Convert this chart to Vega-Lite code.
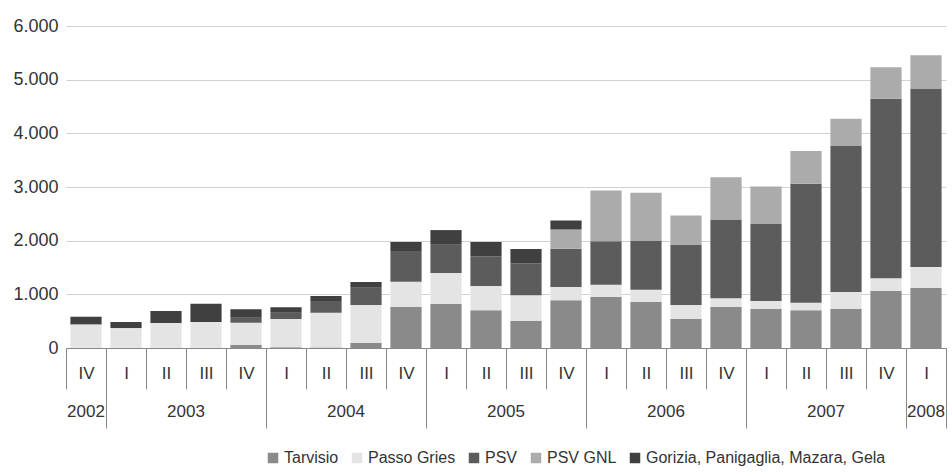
{
  "$schema": "https://vega.github.io/schema/vega-lite/v6.json",
  "background": "white",
  "padding": {"left": 12, "top": 17, "right": 0, "bottom": 0},
  "bounds": "flush",
  "data": {"values": [
    {"anno": "2002", "trimestre": "2002 IV", "Tarvisio": 0, "Passo Gries": 440, "PSV": 0, "PSV GNL": 0, "Gorizia, Panigaglia, Mazara, Gela": 143},
    {"anno": "2003", "trimestre": "2003 I", "Tarvisio": 0, "Passo Gries": 372, "PSV": 0, "PSV GNL": 0, "Gorizia, Panigaglia, Mazara, Gela": 112},
    {"anno": "2003", "trimestre": "2003 II", "Tarvisio": 0, "Passo Gries": 465, "PSV": 0, "PSV GNL": 0, "Gorizia, Panigaglia, Mazara, Gela": 224},
    {"anno": "2003", "trimestre": "2003 III", "Tarvisio": 0, "Passo Gries": 484, "PSV": 0, "PSV GNL": 0, "Gorizia, Panigaglia, Mazara, Gela": 341},
    {"anno": "2003", "trimestre": "2003 IV", "Tarvisio": 60, "Passo Gries": 411, "PSV": 93, "PSV GNL": 0, "Gorizia, Panigaglia, Mazara, Gela": 156},
    {"anno": "2004", "trimestre": "2004 I", "Tarvisio": 15, "Passo Gries": 525, "PSV": 117, "PSV GNL": 0, "Gorizia, Panigaglia, Mazara, Gela": 103},
    {"anno": "2004", "trimestre": "2004 II", "Tarvisio": 8, "Passo Gries": 649, "PSV": 218, "PSV GNL": 0, "Gorizia, Panigaglia, Mazara, Gela": 93},
    {"anno": "2004", "trimestre": "2004 III", "Tarvisio": 100, "Passo Gries": 700, "PSV": 323, "PSV GNL": 0, "Gorizia, Panigaglia, Mazara, Gela": 106},
    {"anno": "2004", "trimestre": "2004 IV", "Tarvisio": 763, "Passo Gries": 472, "PSV": 571, "PSV GNL": 0, "Gorizia, Panigaglia, Mazara, Gela": 168},
    {"anno": "2005", "trimestre": "2005 I", "Tarvisio": 825, "Passo Gries": 572, "PSV": 527, "PSV GNL": 0, "Gorizia, Panigaglia, Mazara, Gela": 273},
    {"anno": "2005", "trimestre": "2005 II", "Tarvisio": 702, "Passo Gries": 453, "PSV": 552, "PSV GNL": 0, "Gorizia, Panigaglia, Mazara, Gela": 267},
    {"anno": "2005", "trimestre": "2005 III", "Tarvisio": 503, "Passo Gries": 478, "PSV": 596, "PSV GNL": 0, "Gorizia, Panigaglia, Mazara, Gela": 267},
    {"anno": "2005", "trimestre": "2005 IV", "Tarvisio": 888, "Passo Gries": 248, "PSV": 713, "PSV GNL": 361, "Gorizia, Panigaglia, Mazara, Gela": 168},
    {"anno": "2006", "trimestre": "2006 I", "Tarvisio": 952, "Passo Gries": 225, "PSV": 810, "PSV GNL": 950, "Gorizia, Panigaglia, Mazara, Gela": 0},
    {"anno": "2006", "trimestre": "2006 II", "Tarvisio": 857, "Passo Gries": 229, "PSV": 919, "PSV GNL": 887, "Gorizia, Panigaglia, Mazara, Gela": 0},
    {"anno": "2006", "trimestre": "2006 III", "Tarvisio": 546, "Passo Gries": 255, "PSV": 1129, "PSV GNL": 541, "Gorizia, Panigaglia, Mazara, Gela": 0},
    {"anno": "2006", "trimestre": "2006 IV", "Tarvisio": 763, "Passo Gries": 162, "PSV": 1459, "PSV GNL": 800, "Gorizia, Panigaglia, Mazara, Gela": 0},
    {"anno": "2007", "trimestre": "2007 I", "Tarvisio": 726, "Passo Gries": 149, "PSV": 1434, "PSV GNL": 700, "Gorizia, Panigaglia, Mazara, Gela": 0},
    {"anno": "2007", "trimestre": "2007 II", "Tarvisio": 702, "Passo Gries": 142, "PSV": 2216, "PSV GNL": 609, "Gorizia, Panigaglia, Mazara, Gela": 0},
    {"anno": "2007", "trimestre": "2007 III", "Tarvisio": 732, "Passo Gries": 311, "PSV": 2719, "PSV GNL": 509, "Gorizia, Panigaglia, Mazara, Gela": 0},
    {"anno": "2007", "trimestre": "2007 IV", "Tarvisio": 1061, "Passo Gries": 237, "PSV": 3345, "PSV GNL": 590, "Gorizia, Panigaglia, Mazara, Gela": 0},
    {"anno": "2008", "trimestre": "2008 I", "Tarvisio": 1123, "Passo Gries": 385, "PSV": 3328, "PSV GNL": 620, "Gorizia, Panigaglia, Mazara, Gela": 0}
  ]},
  "transform": [
    {"fold": ["Tarvisio", "Passo Gries", "PSV", "PSV GNL", "Gorizia, Panigaglia, Mazara, Gela"], "as": ["serie", "valore"]},
    {"lookup": "serie", "from": {"data": {"values": [
      {"serie": "Tarvisio", "ordine": 1},
      {"serie": "Passo Gries", "ordine": 2},
      {"serie": "PSV", "ordine": 3},
      {"serie": "PSV GNL", "ordine": 4},
      {"serie": "Gorizia, Panigaglia, Mazara, Gela", "ordine": 5}
    ]}, "key": "serie", "fields": ["ordine"]}}
  ],
  "facet": {
    "column": {
      "field": "anno", "type": "ordinal",
      "header": {"title": null, "labelOrient": "bottom", "labelFontSize": 17, "labelColor": "#333333", "labelFont": "Liberation Sans", "labelPadding": 56}
    }
  },
  "spacing": 0,
  "resolve": {"scale": {"x": "independent"}},
  "spec": {
    "width": {"step": 40},
    "height": 322,
    "mark": {"type": "bar", "width": {"band": 0.78}},
    "encoding": {
      "x": {
        "field": "trimestre", "type": "ordinal", "sort": null,
        "scale": {"paddingInner": 0, "paddingOuter": 0},
        "axis": {
          "title": null,
          "labelExpr": "split(datum.value, ' ')[1]",
          "labelAngle": 0,
          "labelFontSize": 17,
          "labelColor": "#333333",
          "labelPadding": {"condition": {"test": "indexof(['2002 IV','2003 IV','2004 IV','2005 IV','2006 IV','2007 IV','2008 I'], datum.value) >= 0", "value": -63}, "value": -24},
          "tickBand": "extent",
          "tickColor": "#888888",
          "domainColor": "#888888",
          "tickSize": {"condition": {"test": "indexof(['2002 IV','2003 IV','2004 IV','2005 IV','2006 IV','2007 IV','2008 I'], datum.value) >= 0", "value": 80}, "value": 41}
        }
      },
      "y": {
        "field": "valore", "type": "quantitative", "stack": "zero",
        "scale": {"domain": [0, 6000], "nice": false},
        "axis": {
          "title": null,
          "values": [0, 1000, 2000, 3000, 4000, 5000, 6000],
          "labelExpr": "replace(format(datum.value, ','), ',', '.')",
          "domain": false,
          "ticks": false,
          "labelFontSize": 18,
          "labelColor": "#333333",
          "labelPadding": 8,
          "gridColor": "#d0d0d0"
        }
      },
      "order": {"field": "ordine", "type": "quantitative", "sort": "ascending"},
      "color": {
        "field": "serie", "type": "nominal",
        "sort": ["Tarvisio", "Passo Gries", "PSV", "PSV GNL", "Gorizia, Panigaglia, Mazara, Gela"],
        "scale": {
          "domain": ["Tarvisio", "Passo Gries", "PSV", "PSV GNL", "Gorizia, Panigaglia, Mazara, Gela"],
          "range": ["#8a8a8a", "#e4e4e4", "#5c5c5c", "#ababab", "#404040"]
        },
        "legend": {
          "title": null,
          "orient": "none",
          "legendX": 199,
          "legendY": 424,
          "direction": "horizontal",
          "symbolType": "square",
          "symbolSize": 110,
          "symbolStrokeWidth": 0,
          "labelFontSize": 16,
          "labelColor": "#333333",
          "labelOffset": 3,
          "labelLimit": 400,
          "columnPadding": 10
        }
      }
    }
  },
  "config": {
    "font": "Liberation Sans",
    "view": {"stroke": null}
  }
}
